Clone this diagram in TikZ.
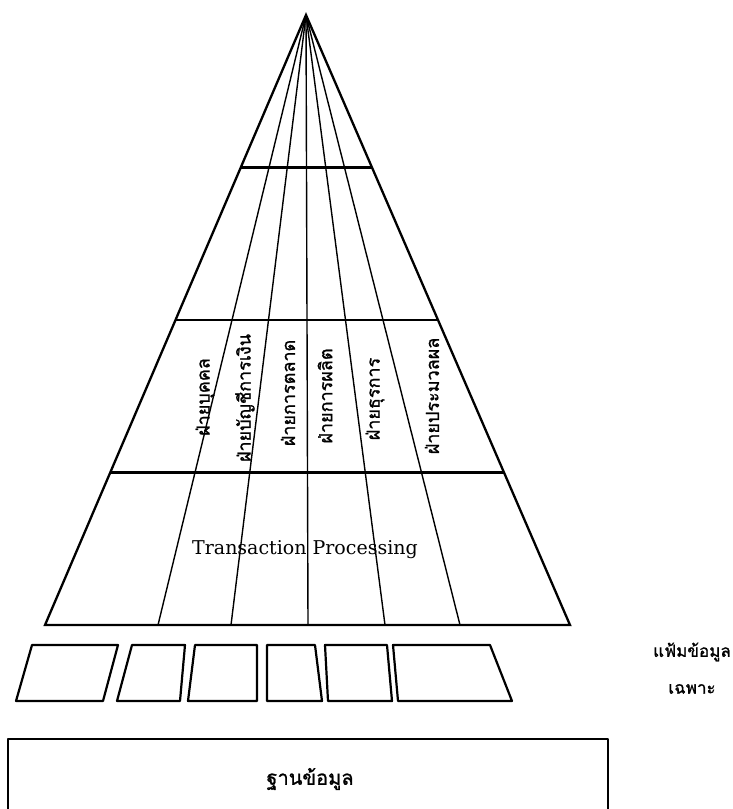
\documentclass[tikz,border=0pt]{standalone}
\usepackage{fontspec}
\setmainfont{DejaVu Serif}
\newfontfamily\thaifont[Script=Thai, FakeBold=1.2]{Loma}
\usetikzlibrary{calc}

\begin{document}
\begin{tikzpicture}[
        x=1pt, y=-1pt,
        edge/.style={line width=2.3pt},
        level/.style={line width=2.6pt},
        divider/.style={line width=1.4pt},
        filebox/.style={line width=2.2pt, line join=round},
        dept/.style={rotate=90, font=\thaifont\fontsize{18}{20}\selectfont, inner sep=1pt},
        thai/.style={font=\thaifont\fontsize{17}{20}\selectfont}
    ]

    \useasboundingbox (0,0) rectangle (732,809);
    \clip (0,0) rectangle (732,809);

    \coordinate (apex) at (306,15);
    \coordinate (bl) at (45,625);
    \coordinate (br) at (570,625);

    \foreach \x [count=\i] in {158,231,308,385,460}
        \coordinate (d\i) at (\x,625);

    \foreach \i in {1,...,5}
        \draw[divider] (apex) -- (d\i);

    \foreach \t in {0.25,0.5,0.75}
        \draw[level] ($(apex)!\t!(bl)$) -- ($(apex)!\t!(br)$);

    \draw[edge, line join=miter] (bl) -- (apex) -- (br) -- cycle;

    \node[dept] (hr) at (205,397) {ฝ่ายบุคคล};
    \node[dept] (acc) at (245,398) {ฝ่ายบัญชีการเงิน};
    \node[dept] (mkt) at (288,393) {ฝ่ายการตลาด};
    \node[dept] (prod) at (325,396) {ฝ่ายการผลิต};
    \node[dept] (adm) at (375,399) {ฝ่ายธุรการ};
    \node[dept] (edp) at (432,396) {ฝ่ายประมวลผล};

    \node[font=\fontsize{19}{22}\selectfont] (tp) at (305,550) {Transaction Processing};

    \foreach \a/\b/\c/\d [count=\i] in {32/118/103/16, 132/185/180/117, 195/257/257/188,
            267/315/322/267, 325/387/392/328, 393/490/512/398} {
        \coordinate (f\i tl) at (\a,645);
        \coordinate (f\i tr) at (\b,645);
        \coordinate (f\i br) at (\c,701);
        \coordinate (f\i bl) at (\d,701);
        \draw[filebox] (f\i tl) -- (f\i tr) -- (f\i br) -- (f\i bl) -- cycle;
    }

    \node[thai] (files) at (692,652) {แฟ้มข้อมูล};
    \node[thai] (only) at (692,689) {เฉพาะ};

    \draw[filebox] (8,739) rectangle (608,840);
    \node[thai, font=\thaifont\fontsize{20}{22}\selectfont] (db) at (310,779) {ฐานข้อมูล};
\end{tikzpicture}
\end{document}
